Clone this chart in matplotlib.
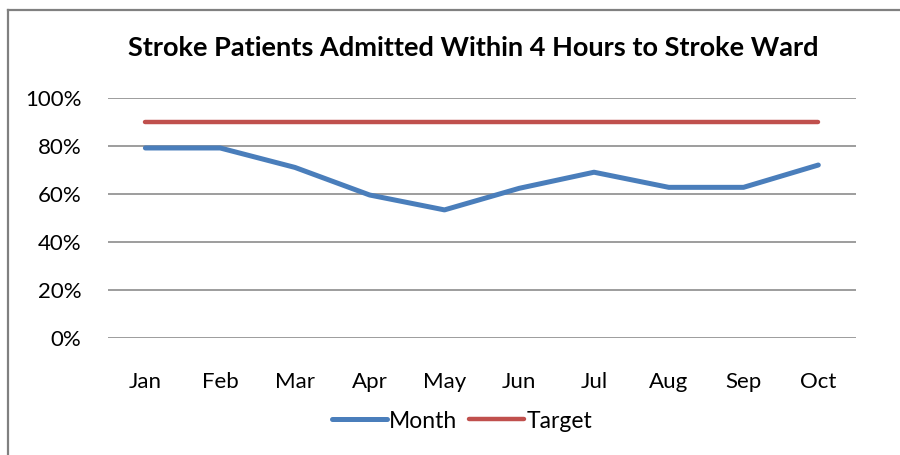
import matplotlib
matplotlib.use("Agg")
import matplotlib.pyplot as plt
from matplotlib.lines import Line2D
from matplotlib.ticker import PercentFormatter

months = ["Jan", "Feb", "Mar", "Apr", "May", "Jun", "Jul", "Aug", "Sep", "Oct"]
month_values = [0.793, 0.793, 0.712, 0.597, 0.535, 0.625, 0.692, 0.629, 0.629, 0.722]
target_values = [0.90] * 10
y_ticks = [0.0, 0.2, 0.4, 0.6, 0.8, 1.0]

plt.rcParams['font.family'] = ['Lato', 'DejaVu Sans']

W, H = 900, 455
fig = plt.figure(figsize=(9, 4.55), dpi=100)
ax = fig.add_axes([108 / W, 1 - 338.3 / H, (855.7 - 108) / W, (338.3 - 98.3) / H])

x = list(range(len(months)))
ax.plot(x, month_values, color="#4a7ebb", lw=3.6, solid_capstyle="round",
        solid_joinstyle="round", label="Month", zorder=3)
ax.plot(x, target_values, color="#c0504d", lw=3.2, solid_capstyle="round",
        label="Target", zorder=3)

ax.set_xlim(-0.5, len(months) - 0.5)
ax.set_ylim(0, 1)
ax.set_yticks(y_ticks)
ax.yaxis.set_major_formatter(PercentFormatter(1.0, decimals=0))
ax.set_xticks(x)
ax.set_xticklabels(months)
ax.tick_params(axis="both", length=0, labelsize=16, colors="#000000")
ax.tick_params(axis="y", pad=19)
ax.tick_params(axis="x", pad=24)
for s in ax.spines.values():
    s.set_visible(False)
ax.grid(axis="y", color="#8c8c8c", lw=1.2)
ax.set_axisbelow(True)

fig.text(473 / W, 1 - 48 / H, "Stroke Patients Admitted Within 4 Hours to Stroke Ward",
         ha="center", va="center", fontsize=19.5, fontweight="bold")

leg = fig.legend(handles=[Line2D([], [], color="#4a7ebb", lw=3.6, solid_capstyle="round"),
                          Line2D([], [], color="#c0504d", lw=3.2, solid_capstyle="round")],
                 labels=["Month", "Target"], loc="center", bbox_to_anchor=(462 / W, 1 - 421 / H),
                 ncol=2, frameon=False, fontsize=16.5, handlelength=2.4, handletextpad=0.1,
                 columnspacing=0.5)

# outer chart border (top and left visible)
fig.add_artist(Line2D([7.5 / W, 7.5 / W], [0, 1 - 10 / H], color="#808080", lw=1.6,
                      transform=fig.transFigure))
fig.add_artist(Line2D([7.5 / W, 1], [1 - 10 / H, 1 - 10 / H], color="#808080", lw=1.6,
                      transform=fig.transFigure))

fig.savefig("out.png", dpi=100, facecolor="white")
